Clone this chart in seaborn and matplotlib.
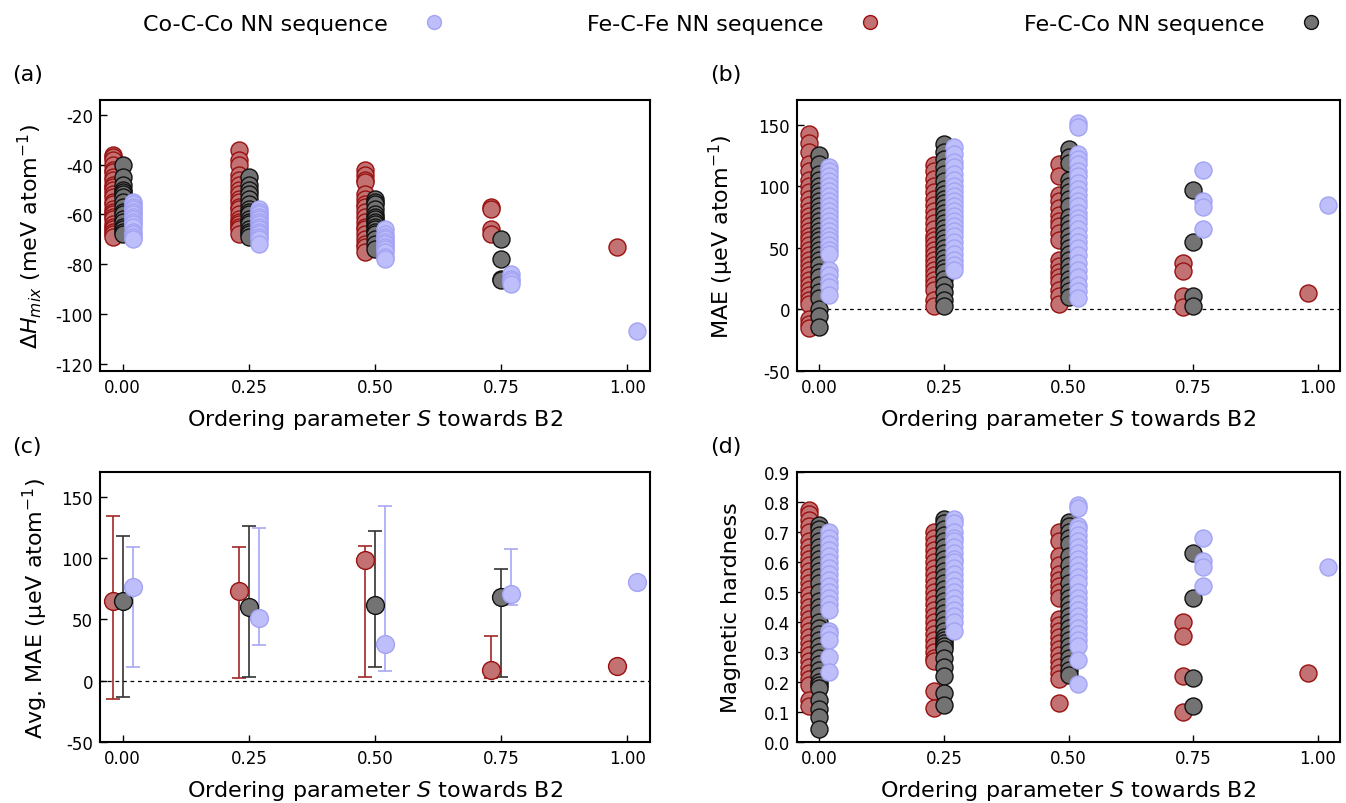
import numpy as np
import pandas as pd
import matplotlib
matplotlib.use("Agg")
import matplotlib.pyplot as plt
import seaborn as sns
from matplotlib.lines import Line2D

# ---------------- data ----------------
S_levels = [0.0, 0.25, 0.5, 0.75, 1.0]
x_ticks = [0.0, 0.25, 0.5, 0.75, 1.0]
x_ticklabels = ["0.00", "0.25", "0.50", "0.75", "1.00"]
series_names = ["Fe-C-Fe", "Fe-C-Co", "Co-C-Co"]
legend_order = ["Co-C-Co", "Fe-C-Fe", "Fe-C-Co"]

# (a) mixing enthalpy, meV/atom (one list per S level)
dH_FeFe = [
    [-36, -37, -38, -40, -42, -43, -45, -46, -48, -49, -50, -52, -53, -55, -56, -58, -59, -60, -61, -62, -64, -65, -66, -67, -68, -69],
    [-34, -38, -40, -44, -46, -48, -50, -52, -54, -55, -57, -58, -60, -62, -63, -64, -65, -66, -68],
    [-42, -44, -46, -47, -52, -54, -56, -57, -59, -61, -63, -65, -66, -68, -70, -72, -73, -75],
    [-57, -58, -66, -68],
    [-73],
]
dH_FeCo = [
    [-40, -45, -48, -50, -51, -52, -53, -55, -57, -59, -60, -62, -63, -65, -66, -67, -68],
    [-45, -48, -50, -52, -54, -56, -58, -59, -60, -62, -63, -64, -66, -67, -68, -69],
    [-54, -55, -56, -58, -60, -61, -62, -63, -64, -65, -66, -67, -68, -70, -72, -74],
    [-70, -78, -86, -86.5],
    [],
]
dH_CoCo = [
    [-55, -56, -57, -58, -59, -60, -61, -62, -63, -64, -65, -67, -68, -69, -70],
    [-58, -59, -60, -61, -62, -63, -64, -65, -66, -67, -68, -69, -70, -72],
    [-66, -68, -69, -70, -71, -72, -73, -74, -75, -77, -78],
    [-84, -86, -87, -88],
    [-107],
]

# (b) MAE, ueV/atom
mae_FeFe = [
    [142, 135, 128, 118, 112, 105, 100, 95, 90, 85, 80, 76, 72, 68, 64, 60, 56, 52, 48, 44, 40, 36, 32, 28, 24, 20, 16, 12, 8, 4, -8, -12, -15],
    [117, 112, 106, 100, 95, 90, 85, 80, 75, 70, 65, 60, 56, 52, 48, 44, 40, 36, 32, 28, 24, 20, 16, 8, 3],
    [118, 108, 93, 88, 82, 77, 72, 68, 62, 56, 40, 35, 30, 26, 22, 16, 11, 4],
    [38, 31, 11, 2],
    [13],
]
mae_FeCo = [
    [125, 118, 110, 105, 100, 96, 92, 88, 84, 80, 76, 72, 68, 64, 60, 56, 52, 48, 44, 40, 36, 30, 26, 20, 14, 9, 0, -5, -14],
    [134, 128, 122, 116, 110, 104, 98, 94, 90, 86, 82, 78, 74, 70, 66, 62, 58, 54, 50, 46, 42, 38, 34, 30, 25, 20, 14, 8, 3],
    [130, 124, 119, 105, 100, 95, 90, 84, 75, 70, 65, 60, 55, 50, 45, 40, 35, 30, 25, 20, 15, 10],
    [97, 55, 11, 3],
    [],
]
mae_CoCo = [
    [116, 112, 108, 104, 100, 96, 92, 88, 84, 80, 76, 72, 68, 64, 60, 56, 52, 48, 45, 32, 28, 22, 18, 12],
    [132, 126, 120, 116, 110, 105, 100, 96, 92, 88, 84, 80, 76, 72, 68, 64, 60, 55, 50, 45, 40, 36, 32],
    [151, 148, 126, 122, 118, 112, 108, 103, 98, 93, 88, 84, 78, 74, 70, 65, 60, 55, 50, 44, 38, 32, 26, 20, 15, 9],
    [113, 88, 83, 65],
    [85],
]

# (c) average MAE with lower / upper limits
avg_FeFe = [65, 73, 98, 9, 12]
low_FeFe = [-15, 2, 3, 2, None]
high_FeFe = [134, 109, 110, 36, None]
avg_FeCo = [65, 60, 62, 68]
low_FeCo = [-13, 3, 11, 3]
high_FeCo = [118, 126, 122, 91]
avg_CoCo = [76, 51, 30, 71, 80]
low_CoCo = [11, 29, 8, 62, None]
high_CoCo = [109, 124, 142, 107, None]

# (d) magnetic hardness
mh_FeFe = [
    [0.775, 0.76, 0.74, 0.72, 0.70, 0.67, 0.65, 0.63, 0.61, 0.59, 0.57, 0.55, 0.53, 0.51, 0.49, 0.47, 0.45, 0.43, 0.41, 0.39, 0.37, 0.35, 0.33, 0.31, 0.29, 0.27, 0.25, 0.23, 0.21, 0.19, 0.14, 0.12],
    [0.70, 0.68, 0.66, 0.64, 0.62, 0.60, 0.58, 0.56, 0.54, 0.52, 0.50, 0.48, 0.46, 0.44, 0.42, 0.40, 0.38, 0.36, 0.34, 0.32, 0.30, 0.28, 0.27, 0.17, 0.115],
    [0.70, 0.67, 0.62, 0.59, 0.56, 0.54, 0.52, 0.50, 0.48, 0.41, 0.39, 0.37, 0.35, 0.33, 0.31, 0.29, 0.27, 0.25, 0.23, 0.21, 0.13],
    [0.40, 0.355, 0.22, 0.10],
    [0.23],
]
mh_FeCo = [
    [0.725, 0.71, 0.69, 0.67, 0.65, 0.63, 0.61, 0.59, 0.57, 0.55, 0.53, 0.50, 0.47, 0.45, 0.43, 0.40, 0.38, 0.36, 0.34, 0.32, 0.30, 0.28, 0.26, 0.24, 0.22, 0.20, 0.19, 0.18, 0.14, 0.11, 0.085, 0.045],
    [0.745, 0.73, 0.71, 0.69, 0.67, 0.65, 0.63, 0.61, 0.59, 0.57, 0.55, 0.53, 0.51, 0.49, 0.47, 0.45, 0.43, 0.41, 0.39, 0.37, 0.35, 0.34, 0.33, 0.32, 0.31, 0.28, 0.25, 0.22, 0.165, 0.125],
    [0.735, 0.72, 0.70, 0.68, 0.66, 0.62, 0.59, 0.56, 0.53, 0.50, 0.48, 0.46, 0.44, 0.42, 0.40, 0.38, 0.36, 0.34, 0.32, 0.30, 0.28, 0.26, 0.24, 0.225],
    [0.63, 0.48, 0.215, 0.12],
    [],
]
mh_CoCo = [
    [0.70, 0.68, 0.66, 0.64, 0.62, 0.60, 0.58, 0.56, 0.54, 0.52, 0.50, 0.48, 0.46, 0.44, 0.37, 0.36, 0.34, 0.285, 0.235],
    [0.745, 0.73, 0.70, 0.68, 0.67, 0.65, 0.63, 0.61, 0.60, 0.58, 0.56, 0.54, 0.52, 0.50, 0.48, 0.46, 0.44, 0.42, 0.40, 0.37],
    [0.79, 0.78, 0.72, 0.71, 0.69, 0.67, 0.65, 0.63, 0.61, 0.59, 0.57, 0.55, 0.53, 0.50, 0.48, 0.46, 0.44, 0.42, 0.40, 0.38, 0.36, 0.34, 0.32, 0.275, 0.195],
    [0.68, 0.605, 0.585, 0.52],
    [0.585],
]

# ---------------- style ----------------
offsets = {"Fe-C-Fe": -0.02, "Fe-C-Co": 0.0, "Co-C-Co": 0.02}
face = {"Fe-C-Fe": "#c27272", "Fe-C-Co": "#737373", "Co-C-Co": "#bebefa"}
edge = {"Fe-C-Fe": "#9a1010", "Fe-C-Co": "#111111", "Co-C-Co": "#a3a3f4"}
errc = {"Fe-C-Fe": "#a22828", "Fe-C-Co": "#333333", "Co-C-Co": "#a8a8f6"}

sns.set_theme(style="white")
plt.rcParams["font.family"] = ["DejaVu Sans"]
plt.rcParams["axes.unicode_minus"] = False
plt.rcParams["mathtext.default"] = "regular"
plt.rcParams["text.color"] = "black"
plt.rcParams["axes.labelcolor"] = "black"
plt.rcParams["xtick.color"] = "black"
plt.rcParams["ytick.color"] = "black"

fig = plt.figure(figsize=(13.46, 8.04), dpi=100)
W, H = 1346, 804


def axes_px(l, t, r, b):
    return fig.add_axes([l / W, 1 - b / H, (r - l) / W, (b - t) / H])


ax_a = axes_px(100, 101, 650, 372)
ax_b = axes_px(797, 101, 1340, 372)
ax_c = axes_px(100, 473, 650, 743)
ax_d = axes_px(797, 473, 1340, 743)

MS = 150


def long_frame(lists_by_series):
    rows = []
    for name, lists in lists_by_series.items():
        for s, vals in zip(S_levels, lists):
            for v in vals:
                rows.append({"seq": name, "S": s, "x": s + offsets[name], "val": v})
    return pd.DataFrame(rows)


def scatter_panel(ax, lists_by_series):
    df = long_frame(lists_by_series)
    for name in series_names:
        sub = df[df["seq"] == name]
        sns.scatterplot(data=sub, x="x", y="val", ax=ax, s=MS, color=face[name],
                        edgecolor=edge[name], linewidth=1.0, legend=False, zorder=3)


def style_axes(ax, ylim, yticks, ylabel, yfmt=None, ylabelpad=10):
    ax.set_xlim(-0.045, 1.045)
    ax.set_ylim(*ylim)
    ax.set_xticks(x_ticks)
    ax.set_xticklabels(x_ticklabels)
    ax.set_yticks(yticks)
    if yfmt is not None:
        ax.set_yticklabels([yfmt.format(v) for v in yticks])
    ax.tick_params(direction="in", length=5, width=1, labelsize=12, colors="black",
                   bottom=True, left=True, top=False, right=False, pad=5)
    ax.set_xlabel("Ordering parameter $\\mathit{S}$ towards B2", fontsize=16, labelpad=8)
    ax.set_ylabel(ylabel, fontsize=16, labelpad=ylabelpad)
    for sp in ax.spines.values():
        sp.set_linewidth(1.5)
        sp.set_color("black")


scatter_panel(ax_a, {"Fe-C-Fe": dH_FeFe, "Fe-C-Co": dH_FeCo, "Co-C-Co": dH_CoCo})
style_axes(ax_a, (-123, -14), [-20, -40, -60, -80, -100, -120],
           "$\\Delta \\mathit{H}_{\\mathit{mix}}$ (meV atom$^{-1}$)", ylabelpad=8)

scatter_panel(ax_b, {"Fe-C-Fe": mae_FeFe, "Fe-C-Co": mae_FeCo, "Co-C-Co": mae_CoCo})
ax_b.axhline(0, color="black", linestyle=(0, (3, 3)), linewidth=0.9, zorder=1)
style_axes(ax_b, (-50, 170), [-50, 0, 50, 100, 150], "MAE (μeV atom$^{-1}$)", ylabelpad=16)

# (c)
avg_data = {
    "Fe-C-Fe": (avg_FeFe, low_FeFe, high_FeFe),
    "Fe-C-Co": (avg_FeCo, low_FeCo, high_FeCo),
    "Co-C-Co": (avg_CoCo, low_CoCo, high_CoCo),
}
ax_c.axhline(0, color="black", linestyle=(0, (3, 3)), linewidth=0.9, zorder=1)
for name in series_names:
    avg, lo, hi = avg_data[name]
    xs = [S_levels[i] + offsets[name] for i in range(len(avg))]
    for xv, m, l, h in zip(xs, avg, lo, hi):
        if l is None:
            continue
        ax_c.errorbar([xv], [m], yerr=[[m - l], [h - m]], fmt="none", ecolor=errc[name],
                      elinewidth=1.2, capsize=5, capthick=1.2, zorder=2)
    dfc = pd.DataFrame({"x": xs, "val": avg})
    sns.scatterplot(data=dfc, x="x", y="val", ax=ax_c, s=MS * 1.1, color=face[name],
                    edgecolor=edge[name], linewidth=1.0, legend=False, zorder=3)
style_axes(ax_c, (-50, 170), [-50, 0, 50, 100, 150], "Avg. MAE (μeV atom$^{-1}$)", ylabelpad=8)

scatter_panel(ax_d, {"Fe-C-Fe": mh_FeFe, "Fe-C-Co": mh_FeCo, "Co-C-Co": mh_CoCo})
style_axes(ax_d, (0, 0.9), [0.0, 0.1, 0.2, 0.3, 0.4, 0.5, 0.6, 0.7, 0.8, 0.9],
           "Magnetic hardness", yfmt="{:.1f}", ylabelpad=16)

# panel labels
for lab, (px, py) in {"(a)": (12, 75), "(b)": (710, 75), "(c)": (12, 447), "(d)": (710, 447)}.items():
    fig.text(px / W, 1 - py / H, lab, fontsize=16, ha="left", va="center", color="black")

# legend
handles = []
for name in legend_order:
    handles.append(Line2D([], [], linestyle="none", marker="o", markersize=10,
                          markerfacecolor=face[name], markeredgecolor=edge[name],
                          markeredgewidth=1.0, label=f"{name} NN sequence"))
fig.legend(handles=handles, loc="center", bbox_to_anchor=(0.544, 0.969), ncol=3,
           frameon=False, fontsize=16, markerfirst=False, handlelength=1.0,
           handletextpad=1.6, columnspacing=6.4, labelcolor="black")

fig.savefig("out.png", dpi=100)
